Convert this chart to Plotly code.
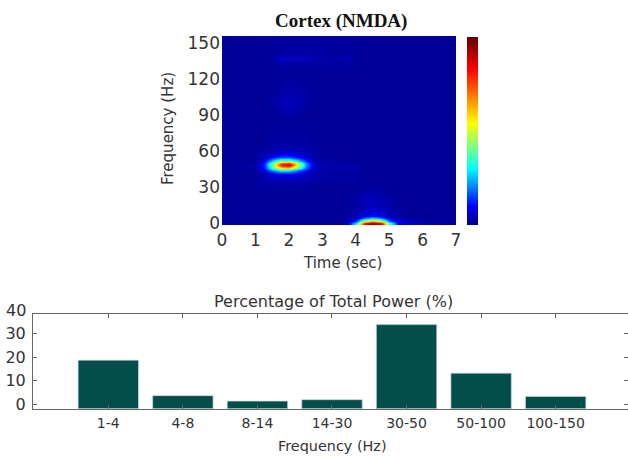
import plotly.graph_objects as go

W, H = 628, 457

# --- spectrogram values on a coarse grid ---
times = [0, 1, 1.25, 1.5, 1.75, 2, 2.25, 2.5, 2.75, 3, 3.5, 3.75, 4, 4.25, 4.5, 4.75, 5, 5.25, 5.5, 6, 7]
freqs = [-2, 0, 2, 4, 6, 9, 14, 20, 26, 33, 37, 41, 44, 46, 48, 50, 52, 55, 59, 65, 85, 93, 100, 107, 125, 134, 137, 140, 157]
power = [
    [.02,.02,.02,.02,.02,.02,.02,.02,.02,.02,.02,.04,.34,.86,1.0,.90,.42,.10,.07,.04,.02],
    [.02,.02,.02,.02,.02,.02,.02,.02,.02,.02,.02,.04,.28,.76,.95,.82,.36,.10,.07,.04,.02],
    [.02,.02,.02,.02,.02,.02,.02,.02,.02,.02,.02,.03,.14,.46,.62,.50,.18,.07,.05,.03,.02],
    [.02,.02,.02,.02,.02,.02,.02,.02,.02,.02,.02,.03,.06,.18,.26,.20,.08,.04,.03,.02,.02],
    [.02,.02,.02,.02,.02,.02,.02,.02,.02,.02,.02,.02,.04,.09,.12,.09,.04,.03,.02,.02,.02],
    [.02,.02,.02,.02,.02,.02,.02,.02,.02,.02,.02,.02,.03,.06,.07,.06,.04,.03,.02,.02,.02],
    [.02,.02,.02,.02,.02,.02,.02,.02,.02,.02,.02,.02,.03,.04,.05,.04,.03,.02,.02,.02,.02],
    [.02,.02,.02,.02,.02,.02,.02,.02,.02,.02,.02,.02,.03,.04,.05,.04,.03,.02,.02,.02,.02],
    [.02,.02,.02,.02,.02,.02,.02,.02,.02,.02,.02,.02,.02,.03,.03,.03,.02,.02,.02,.02,.02],
    [.02,.02,.03,.03,.03,.03,.03,.03,.02,.02,.02,.02,.02,.02,.02,.02,.02,.02,.02,.02,.02],
    [.02,.02,.04,.05,.05,.05,.05,.04,.04,.03,.03,.03,.03,.02,.02,.02,.02,.02,.02,.02,.02],
    [.02,.02,.03,.06,.08,.09,.08,.05,.03,.03,.02,.02,.02,.02,.02,.02,.02,.02,.02,.02,.02],
    [.02,.02,.08,.22,.32,.30,.22,.11,.04,.03,.03,.03,.03,.02,.02,.02,.02,.02,.02,.02,.02],
    [.02,.03,.11,.34,.56,.60,.40,.18,.05,.04,.03,.04,.03,.02,.02,.02,.02,.02,.02,.02,.02],
    [.02,.03,.13,.42,.80,.88,.56,.22,.05,.04,.03,.04,.03,.02,.02,.02,.02,.02,.02,.02,.02],
    [.02,.03,.12,.38,.70,.78,.50,.20,.05,.03,.03,.03,.02,.02,.02,.02,.02,.02,.02,.02,.02],
    [.02,.02,.08,.26,.42,.42,.30,.13,.04,.03,.02,.02,.02,.02,.02,.02,.02,.02,.02,.02,.02],
    [.02,.02,.04,.10,.15,.15,.11,.06,.03,.02,.02,.02,.02,.02,.02,.02,.02,.02,.02,.02,.02],
    [.02,.02,.03,.04,.05,.06,.05,.04,.03,.02,.02,.02,.02,.02,.02,.02,.02,.02,.02,.02,.02],
    [.02,.02,.02,.03,.03,.03,.03,.03,.02,.02,.02,.02,.02,.02,.02,.02,.02,.02,.02,.02,.02],
    [.02,.02,.02,.02,.02,.02,.02,.02,.02,.02,.02,.02,.02,.02,.02,.02,.02,.02,.02,.02,.02],
    [.02,.02,.02,.02,.03,.04,.03,.02,.02,.02,.02,.02,.02,.02,.02,.02,.02,.02,.02,.02,.02],
    [.02,.02,.02,.03,.04,.05,.04,.03,.02,.02,.02,.02,.02,.02,.02,.02,.02,.02,.02,.02,.02],
    [.02,.02,.02,.02,.03,.04,.03,.03,.02,.02,.02,.02,.02,.02,.02,.02,.02,.02,.02,.02,.02],
    [.02,.02,.02,.02,.02,.02,.02,.02,.02,.02,.02,.02,.02,.02,.02,.02,.02,.02,.02,.02,.02],
    [.02,.02,.02,.02,.03,.03,.03,.03,.03,.03,.02,.03,.02,.02,.02,.02,.02,.02,.02,.02,.02],
    [.02,.02,.02,.03,.06,.06,.06,.05,.04,.03,.03,.04,.02,.02,.02,.02,.02,.02,.02,.02,.02],
    [.02,.02,.02,.02,.03,.03,.03,.03,.03,.03,.02,.03,.02,.02,.02,.02,.02,.02,.02,.02,.02],
    [.02,.02,.02,.02,.02,.02,.02,.02,.02,.02,.02,.02,.02,.02,.02,.02,.02,.02,.02,.02,.02],
]
time_ticks = [0, 1, 2, 3, 4, 5, 6, 7]
freq_ticks = [0, 30, 60, 90, 120, 150]

# --- band power values ---
bands = ["1-4", "4-8", "8-14", "14-30", "30-50", "50-100", "100-150"]
band_power = [18.7, 3.7, 1.4, 2.0, 33.7, 13.2, 3.4]
power_ticks = [0, 10, 20, 30]
axis_floor = -1.8

jet = [[0, "#000080"], [.1, "#0000ff"], [.3, "#00ffff"], [.54, "#ffff00"],
       [.68, "#ff8000"], [.83, "#ff0000"], [1, "#600000"]]
INK = "#333333"
SANS = "DejaVu Sans"

fig = go.Figure()
fig.add_trace(go.Heatmap(
    x=times, y=freqs, z=power, zmin=0, zmax=1, zsmooth="best", colorscale=jet,
    hoverinfo="skip",
    colorbar=dict(x=467/W, xanchor="left", y=1-225/H, yanchor="bottom",
                  thickness=11, thicknessmode="pixels", len=188/H, lenmode="fraction",
                  xpad=0, ypad=0, outlinewidth=0, ticks="", showticklabels=False),
))
fig.add_trace(go.Bar(
    x=bands, y=[v - axis_floor for v in band_power], base=axis_floor,
    width=0.81, marker=dict(color="#034d4b", line=dict(color="#c8d4d4", width=0.7)),
    xaxis="x2", yaxis="y2", hoverinfo="skip",
))

def label(text, x, y, size, **extra):
    font = dict(size=size)
    font.update(extra.pop("font", {}))
    return dict(text=text, x=x/W, y=1-y/H, xref="paper", yref="paper", showarrow=False,
                xanchor=extra.pop("xanchor", "center"), yanchor="middle", font=font, **extra)

fig.update_layout(
    width=W, height=H, margin=dict(l=0, r=0, t=0, b=0, autoexpand=False),
    paper_bgcolor="white", plot_bgcolor="white", showlegend=False,
    font=dict(family=SANS, color=INK, size=15),
    xaxis=dict(domain=[222/W, 456/W], range=[0, 7], tickvals=time_ticks, ticks="",
               showgrid=False, zeroline=False, showline=False, ticklabelstandoff=3,
               tickfont=dict(size=17)),
    yaxis=dict(domain=[1-225/H, 1-36/H], range=[-1.6, 155.8], tickvals=freq_ticks, ticks="",
               showgrid=False, zeroline=False, showline=False, ticklabelstandoff=1,
               tickfont=dict(size=17)),
    xaxis2=dict(domain=[33/W, 1], anchor="y2", type="category", categoryorder="array",
                categoryarray=bands, range=[-1.01, 6.97], side="bottom",
                showgrid=False, zeroline=False, showline=True, mirror="ticks",
                linecolor="#666666", linewidth=1, ticks="inside", ticklen=4,
                tickcolor="#666666", tickfont=dict(size=14), ticklabelstandoff=1),
    yaxis2=dict(domain=[1-408.7/H, 1-313.7/H], anchor="x2", range=[axis_floor, 38.3],
                tickvals=power_ticks, showgrid=False, zeroline=False, showline=True,
                mirror="ticks", linecolor="#666666", linewidth=1, ticks="inside", ticklen=4,
                tickcolor="#666666", tickfont=dict(size=16), ticklabelstandoff=3),
    annotations=[
        label("<b>Cortex (NMDA)</b>", 341, 21, 19,
              font=dict(family="Liberation Serif", color="#111111")),
        label("Frequency (Hz)", 168, 129, 15, textangle=-90),
        label("Time (sec)", 342, 263, 15),
        label("Percentage of Total Power (%)", 333, 301, 16),
        label("Frequency (Hz)", 332, 446, 14.4),
        label("40", 28, 310, 16, xanchor="right"),
    ],
)
fig.write_html("out.html", post_script="document.body.style.margin='0';",
               config=dict(displayModeBar=False))
